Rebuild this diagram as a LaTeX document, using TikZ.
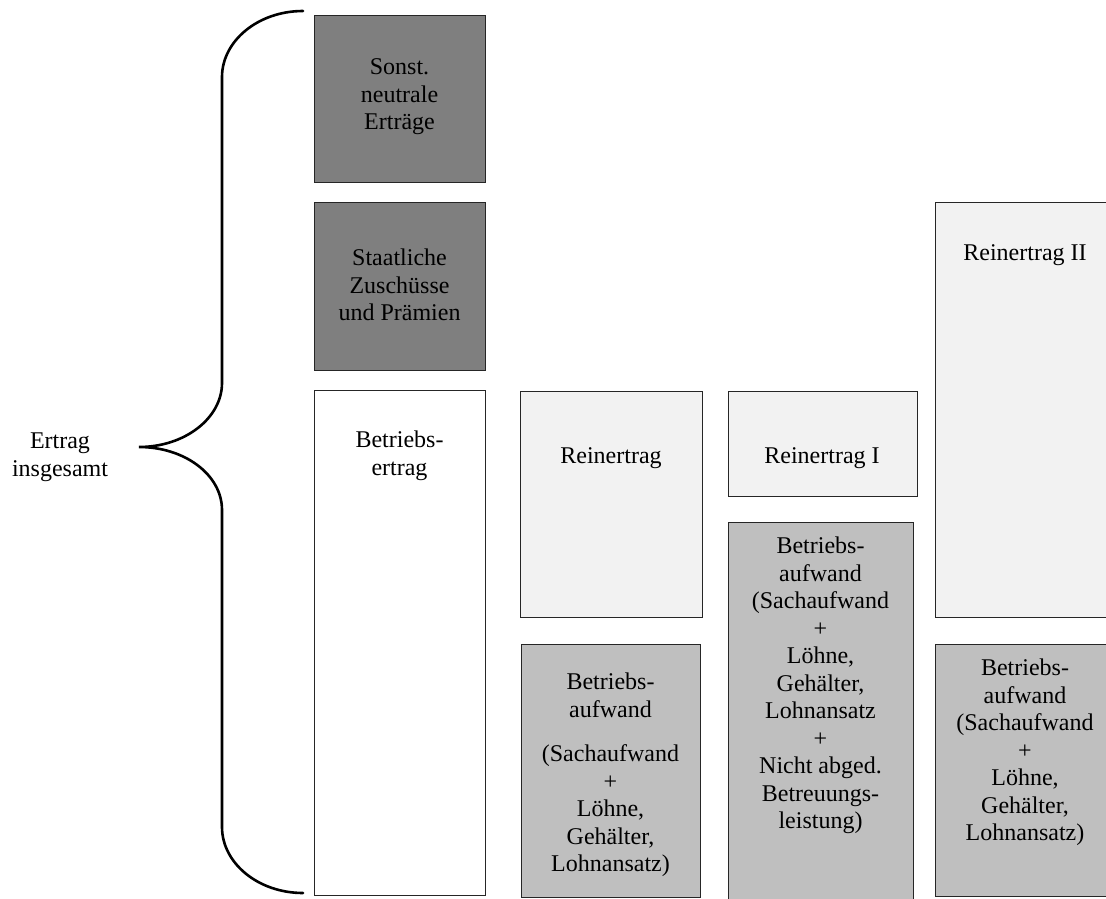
\documentclass[tikz,border=0pt]{standalone}
\usepackage{fontspec}
\setmainfont{Liberation Serif}
\definecolor{darkfill}{HTML}{7F7F7F}
\definecolor{midfill}{HTML}{BFBFBF}
\definecolor{lightfill}{HTML}{F2F2F2}
\definecolor{edge}{HTML}{262626}
\tikzset{
  box/.style={draw=edge, line width=1.3pt, inner sep=0pt, anchor=north west},
  txt/.style={align=center, inner sep=0pt, font=\fontsize{24}{27.5}\selectfont, text=black},
  bracepath/.style={draw=black, line width=2.6pt, line cap=round}
}
\begin{document}
\begin{tikzpicture}[x=1pt, y=-1pt]
\useasboundingbox (0,0) rectangle (1106,899);
\begin{scope}
\clip (0,0) rectangle (1106,899);
% column 1
\node[box, fill=darkfill, minimum width=171pt, minimum height=167pt] (sonst) at (314,15) {};
\node[box, fill=darkfill, minimum width=171pt, minimum height=168pt] (staat) at (314,202) {};
\node[box, fill=white, minimum width=171pt, minimum height=505pt] (betr) at (314,390) {};
% column 2
\node[box, fill=lightfill, minimum width=182pt, minimum height=226pt] (rein) at (520,391) {};
\node[box, fill=midfill, minimum width=179pt, minimum height=253pt] (aufwA) at (521,644) {};
% column 3
\node[box, fill=lightfill, minimum width=189pt, minimum height=105pt] (reinI) at (728,391) {};
\node[box, fill=midfill, minimum width=185pt, minimum height=400pt] (aufwB) at (728,522) {};
% column 4
\node[box, fill=lightfill, minimum width=180pt, minimum height=415pt] (reinII) at (935,202) {};
\node[box, fill=midfill, minimum width=180pt, minimum height=252pt] (aufwC) at (935,644) {};
\end{scope}
% texts
\node[txt] (sonst-t) at (399.5,97) {Sonst.\\neutrale\\Erträge};
\node[txt] (staat-t) at (399.5,285) {Staatliche\\Zuschüsse\\und Prämien};
\node[txt] (betr-t) at (399.5,456) {Betriebs-\\ertrag};
\node[txt] (rein-t) at (611,458) {Reinertrag};
\node[txt] (reinI-t) at (822,458) {Reinertrag I};
\node[txt] (reinII-t) at (1025,255) {Reinertrag II};
\node[txt] (aufwA-t) at (610.5,775) {Betriebs-\\aufwand\\[17pt](Sachaufwand\\+\\Löhne,\\Gehälter,\\Lohnansatz)};
\node[txt] (aufwB-t) at (820.5,685.5) {Betriebs-\\aufwand\\(Sachaufwand\\+\\Löhne,\\Gehälter,\\Lohnansatz\\+\\Nicht abged.\\Betreuungs-\\leistung)};
\node[txt] (aufwC-t) at (1025,752.5) {Betriebs-\\aufwand\\(Sachaufwand\\+\\Löhne,\\Gehälter,\\Lohnansatz)};
\node[txt] (total) at (60,457) {Ertrag\\insgesamt};
% brace
\coordinate (btop) at (303,11);
\coordinate (btip) at (139,447);
\coordinate (bbot) at (303,893);
\draw[bracepath] (btop) .. controls (258,11) and (222,41) .. (222,77)
  -- (222,383) .. controls (222,418) and (185,447) .. (btip)
  .. controls (185,447) and (222,475) .. (222,510)
  -- (222,827) .. controls (222,863) and (258,893) .. (bbot);
\end{tikzpicture}
\end{document}
